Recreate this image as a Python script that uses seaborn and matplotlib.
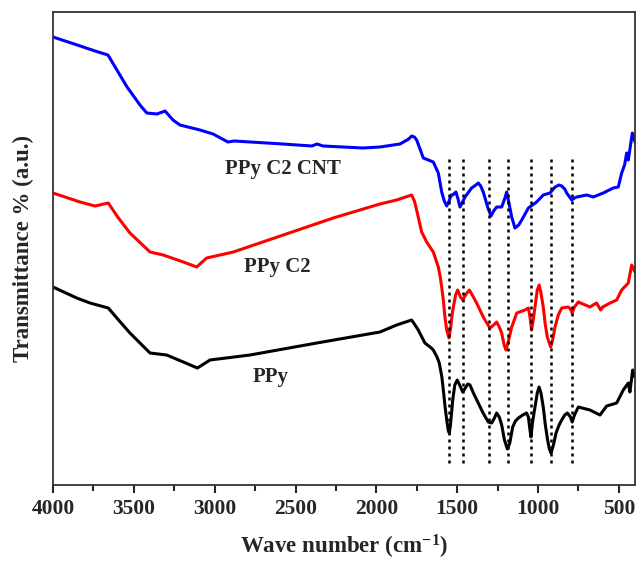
import numpy as np
import pandas as pd
import matplotlib
matplotlib.use('Agg')
import matplotlib.pyplot as plt
from matplotlib.ticker import MultipleLocator
import seaborn as sns

# FTIR spectra (wavenumber in cm-1, transmittance in arbitrary offset units)
wn_cnt = [4000, 3850, 3740, 3660, 3542, 3462, 3420, 3357, 3307, 3258, 3215, 3091, 3010, 2918,
          2880, 2578, 2400, 2367, 2330, 2083, 1978, 1854, 1800, 1782, 1765, 1751, 1730, 1710,
          1648, 1617, 1596, 1580, 1565, 1550, 1538, 1528, 1508, 1495, 1483, 1470, 1452, 1411,
          1385, 1370, 1355, 1339, 1310, 1291, 1275, 1256, 1225, 1205, 1194, 1180, 1163, 1143,
          1120, 1101, 1060, 1009, 968, 926, 895, 870, 854, 835, 823, 805, 792, 775, 761, 699,
          659, 597, 535, 504, 483, 465, 452, 442, 417, 401]
t_cnt = [448, 440, 434, 430, 398, 380, 372, 371, 374, 365, 360, 355, 351, 343,
         344, 341, 339, 341, 339, 337, 338, 341, 346, 349, 348, 345, 336, 327,
         323, 312, 293, 284, 279, 284, 290, 290, 293, 286, 278, 282, 288, 297,
         300, 302, 299, 293, 277, 269, 274, 278, 278, 287, 293, 282, 268, 257,
         260, 265, 277, 283, 290, 292, 298, 300, 299, 296, 292, 288, 285, 287, 288, 290,
         288, 292, 297, 298, 312, 320, 332, 325, 352, 343]

wn_c2 = [4000, 3833, 3740, 3658, 3600, 3524, 3400, 3318, 3194, 3111, 3050, 2885, 2576, 2267,
         1978, 1875, 1782, 1765, 1751, 1720, 1689, 1648, 1617, 1605, 1596, 1586, 1576, 1565,
         1551, 1540, 1530, 1524, 1510, 1497, 1480, 1466, 1445, 1425, 1400, 1380, 1339, 1298,
         1275, 1256, 1240, 1225, 1210, 1199, 1185, 1163, 1132, 1081, 1060, 1050, 1040, 1030,
         1019, 1005, 993, 982, 968, 955, 943, 922, 910, 895, 875, 854, 813, 800, 789, 775,
         751, 679, 650, 638, 613, 600, 555, 514, 483, 442, 421, 401]
t_c2 = [292, 283, 279, 282, 268, 252, 233, 230, 223, 218, 227, 233, 250, 267,
        281, 285, 290, 284, 275, 253, 243, 233, 218, 208, 198, 185, 168, 155,
        147, 158, 172, 178, 190, 195, 188, 185, 191, 195, 188, 182, 168, 157,
        160, 163, 158, 152, 140, 135, 143, 158, 172, 175, 177, 168, 155, 165,
        178, 195, 200, 192, 178, 160, 148, 138, 145, 158, 170, 177, 178, 176, 172, 178,
        183, 178, 181, 182, 175, 178, 182, 185, 195, 202, 220, 213]

wn_ppy = [4000, 3853, 3771, 3658, 3600, 3524, 3400, 3297, 3194, 3107, 3029, 2782, 2369, 1978,
          1875, 1782, 1765, 1741, 1700, 1660, 1648, 1625, 1611, 1595, 1586, 1575, 1565, 1556,
          1549, 1542, 1535, 1528, 1515, 1500, 1485, 1466, 1450, 1435, 1421, 1400, 1370, 1340,
          1308, 1287, 1270, 1256, 1240, 1225, 1208, 1190, 1175, 1157, 1140, 1122, 1095, 1071,
          1060, 1050, 1044, 1035, 1019, 1005, 994, 982, 968, 955, 941, 930, 920, 905, 889,
          870, 854, 835, 819, 800, 789, 775, 751, 679, 617, 576, 514, 473, 442, 432, 415, 401]
t_ppy = [198, 187, 182, 177, 166, 152, 132, 130, 123, 117, 125, 130, 142, 153,
         160, 165, 161, 155, 142, 137, 135, 128, 122, 108, 95, 78, 65, 55,
         52, 60, 72, 85, 100, 105, 100, 93, 97, 101, 100, 92, 82, 72,
         63, 62, 67, 72, 68, 60, 45, 36, 42, 58, 64, 67, 70, 72,
         68, 55, 48, 62, 78, 92, 98, 92, 78, 60, 45, 36, 32, 40, 52,
         60, 65, 70, 72, 68, 63, 70, 78, 75, 70, 79, 82, 95, 102, 93, 115, 108]

peaks = [1551, 1466, 1302, 1186, 1044, 922, 789]

labels = ['PPy', 'PPy C2', 'PPy C2 CNT']
colors = ['black', 'red', 'blue']

sns.set_style('ticks')
plt.rcParams['font.family'] = ['Liberation Serif', 'DejaVu Serif']
plt.rcParams['font.weight'] = 'bold'
plt.rcParams['mathtext.fontset'] = 'custom'
plt.rcParams['mathtext.rm'] = 'Liberation Serif:bold'
plt.rcParams['mathtext.bf'] = 'Liberation Serif:bold'
plt.rcParams['mathtext.default'] = 'bf'

fig = plt.figure(figsize=(6.37, 5.63), dpi=100)
ax = fig.add_axes([0.0832, 0.1385, 0.9138, 0.8402])

series = [(wn_ppy, t_ppy), (wn_c2, t_c2), (wn_cnt, t_cnt)]
for (x, y), lab, c in zip(series, labels, colors):
    df = pd.DataFrame({'wn': x, 't': y})
    sns.lineplot(data=df, x='wn', y='t', color=c, lw=2.2, sort=False,
                 estimator=None, ax=ax, solid_joinstyle='round')

ax.vlines(peaks, 22, 327, colors='black', linestyles=(0, (1.2, 1.6)), lw=1.8)

ax.text(2578, 316, 'PPy C2 CNT', fontsize=15, fontweight='bold', ha='center', va='center')
ax.text(2615, 218, 'PPy C2', fontsize=15, fontweight='bold', ha='center', va='center')
ax.text(2652, 108, 'PPy', fontsize=15, fontweight='bold', ha='center', va='center')

ax.set_xlim(4000, 400)
ax.set_ylim(0, 473)
ax.xaxis.set_major_locator(MultipleLocator(500))
ax.xaxis.set_minor_locator(MultipleLocator(250))
ax.tick_params(axis='x', which='major', direction='out', length=6, width=1.5,
               labelsize=15.5, pad=4)
ax.tick_params(axis='x', which='minor', direction='out', length=4, width=1.5)
ax.set_yticks([])
for lab in ax.get_xticklabels():
    lab.set_fontweight('bold')
for s in ax.spines.values():
    s.set_linewidth(1.3)
    s.set_color('#333333')

ax.set_xlabel('Wave number (cm$^{-1}$)', fontsize=16.5, fontweight='bold', labelpad=10)
ax.set_ylabel('Transmittance % (a.u.)', fontsize=16.5, fontweight='bold', labelpad=14)

fig.savefig('out.png', dpi=100)
